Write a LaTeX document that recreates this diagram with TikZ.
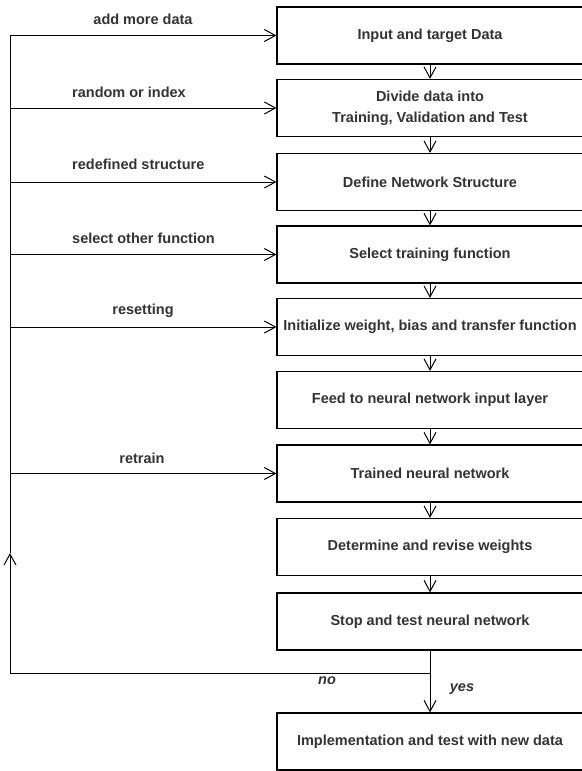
\documentclass[tikz,border=0pt]{standalone}
\usepackage{fontspec}
\setmainfont{Liberation Sans}
\usepackage{tikz}
\usetikzlibrary{arrows.meta}
\definecolor{labelgray}{HTML}{333333}

\begin{document}
\begin{tikzpicture}[x=1pt,y=1pt]
  \tikzset{stagebox/.style={draw=black,line width=1.2pt,minimum width=306pt,minimum height=57pt,inner sep=0pt,align=center,font=\fontsize{14.5}{21}\selectfont\bfseries,text=labelgray}}
  \tikzset{flowline/.style={draw=black,line width=1pt}}
  \tikzset{flowarrow/.style={flowline,-{Straight Barb[length=11pt,width=12pt,line width=1pt]}}}
  \tikzset{looplabel/.style={font=\fontsize{14.5}{17}\selectfont\bfseries,text=labelgray,inner sep=0pt}}
  \tikzset{branchlabel/.style={font=\fontsize{14.5}{17}\selectfont\bfseries\itshape,text=labelgray,inner sep=0pt}}
  \useasboundingbox (0,0) rectangle (581,-771);
  \node[stagebox] (input) at (430,-35.5) {Input and target Data};
  \node[stagebox] (divide) at (430,-108) {Divide data into\\Training, Validation and Test};
  \node[stagebox] (define) at (430,-182) {Define Network Structure};
  \node[stagebox] (select) at (430,-254.5) {Select training function};
  \node[stagebox] (init) at (430,-327) {Initialize weight, bias and transfer function};
  \node[stagebox] (feed) at (430,-400) {Feed to neural network input layer};
  \node[stagebox] (trained) at (430,-473.5) {Trained neural network};
  \node[stagebox] (revise) at (430,-547) {Determine and revise weights};
  \node[stagebox] (stop) at (430,-621.5) {Stop and test neural network};
  \node[stagebox] (impl) at (430,-741.5) {Implementation and test with new data};
  % main flow
  \draw[flowarrow] (input) -- (divide);
  \draw[flowarrow] (divide) -- (define);
  \draw[flowarrow] (define) -- (select);
  \draw[flowarrow] (select) -- (init);
  \draw[flowarrow] (init) -- (feed);
  \draw[flowarrow] (feed) -- (trained);
  \draw[flowarrow] (trained) -- (revise);
  \draw[flowarrow] (revise) -- (stop);
  \draw[flowarrow] (stop) -- (impl);
  % feedback loop
  \coordinate (split) at (430,-673);
  \coordinate (fbcorner) at (10,-673);
  \coordinate (fbmark) at (10,-553);
  \coordinate (fbtop) at (10,-35.5);
  \draw[flowline] (split) -- (fbcorner);
  \draw[flowarrow] (fbcorner) -- (fbmark);
  \draw[flowline] (fbmark) -- (fbtop);
  \draw[flowarrow] (fbtop) -- (input.west);
  \draw[flowarrow] (fbtop |- divide.west) -- (divide.west);
  \draw[flowarrow] (fbtop |- define.west) -- (define.west);
  \draw[flowarrow] (fbtop |- select.west) -- (select.west);
  \draw[flowarrow] (fbtop |- init.west) -- (init.west);
  \draw[flowarrow] (fbtop |- trained.west) -- (trained.west);
  % labels
  \node[looplabel] (lmore) at (143,-19) {add more data};
  \node[looplabel,anchor=west] (lrandom) at (72,-92) {random or index};
  \node[looplabel,anchor=west] (lstruct) at (72,-164) {redefined structure};
  \node[looplabel,anchor=west] (lfunc) at (72,-238) {select other function};
  \node[looplabel] (lreset) at (143,-311) {resetting};
  \node[looplabel] (lretrain) at (142,-458) {retrain};
  \node[branchlabel] (lno) at (327,-681) {no};
  \node[branchlabel] (lyes) at (462,-689) {yes};
\end{tikzpicture}
\end{document}
